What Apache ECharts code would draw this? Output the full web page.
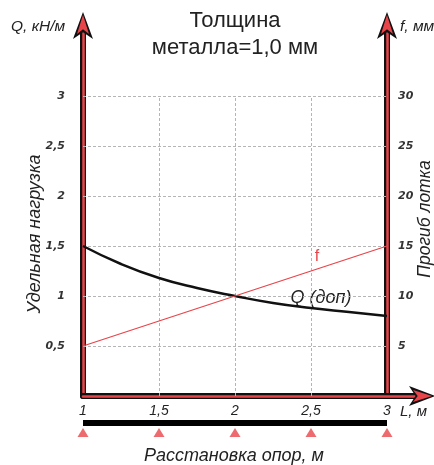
<!DOCTYPE html>
<html><head><meta charset="utf-8">
<script src="https://cdn.jsdelivr.net/npm/echarts@6/dist/echarts.min.js"></script>
<style>html,body{margin:0;padding:0;background:#fff}#c{width:434px;height:465px}</style>
</head><body><div id="c"></div>
<script>
// ---- data ----
var spanL = [1, 1.25, 1.5, 1.75, 2, 2.25, 2.5, 2.75, 3];
var qAllow = [1.5, 1.32, 1.18, 1.08, 1.0, 0.93, 0.88, 0.84, 0.80];
var spanF = [1, 2, 3];
var deflection = [5, 10, 15];
var qTicks = [0.5, 1, 1.5, 2, 2.5, 3];
var xTicks = [1, 1.5, 2, 2.5, 3];
var supports = [1, 1.5, 2, 2.5, 3];

var fmt = function (v) { return String(v).replace('.', ','); };
var RED = '#e8454a';
var GRID_LINE = { type: [3, 2], color: '#b5b5b5', width: 1 };
var FONT = '"Liberation Sans", Arial, sans-serif';

var hLines = qTicks.map(function (v) { return [{ coord: [1, v] }, { coord: [3, v] }]; });
var vLines = xTicks.filter(function (v) { return v > 1 && v < 3; })
  .map(function (v) { return [{ coord: [v, 0] }, { coord: [v, 3] }]; });

var YMAX = 3.74, XMAX = 3.25, PX = 152;
var RIGHT_OFF = -(XMAX - 3) * PX;

function yAx(pos, max, interval, color, width, arrow, off, labels, offset) {
  return {
    type: 'value', gridIndex: 0, position: pos, min: 0, max: max, interval: interval, offset: offset,
    splitLine: { show: false }, axisTick: { show: false },
    axisLine: { show: true, symbol: ['none', 'arrow'], symbolSize: arrow, symbolOffset: [0, off],
      lineStyle: { color: color, width: width } },
    axisLabel: labels ? {
      show: true, fontStyle: 'italic', fontWeight: 'bold', fontSize: 11, color: '#333',
      fontFamily: 'DejaVu Sans', margin: pos === 'left' ? 18 : 11,
      formatter: function (v) { return (v > 0 && v <= max * 0.81) ? fmt(v) : ''; }
    } : { show: false }
  };
}

var chart = echarts.init(document.getElementById('c'));
chart.setOption({
  animation: false,
  grid: [
    { left: 83, right: 434 - 83 - (XMAX - 1) * PX, top: 396 - YMAX * 100, bottom: 69 },
    { left: 83, right: 47, top: 418, height: 20 }
  ],
  xAxis: [
    { type: 'value', gridIndex: 0, position: 'bottom', min: 1, max: XMAX, interval: 0.5,
      splitLine: { show: false }, axisTick: { show: false },
      axisLine: { show: true, onZero: false, symbol: ['none', 'arrow'], symbolSize: [15, 26], symbolOffset: [0, 10],
        lineStyle: { color: '#111', width: 6 } },
      axisLabel: { fontStyle: 'italic', fontSize: 14, color: '#222', margin: 8,
        formatter: function (v) { return v <= 3 ? fmt(v) : ''; } } },
    { type: 'value', gridIndex: 0, position: 'bottom', min: 1, max: XMAX, interval: 0.5,
      splitLine: { show: false }, axisTick: { show: false }, axisLabel: { show: false },
      axisLine: { show: true, onZero: false, symbol: ['none', 'arrow'], symbolSize: [9, 19], symbolOffset: [0, 7],
        lineStyle: { color: RED, width: 2.5 } } },
    { type: 'value', gridIndex: 1, min: 1, max: 3, show: false }
  ],
  yAxis: [
    yAx('left', YMAX, 0.5, '#111', 6, [15, 27], 10, true, 0),
    yAx('left', YMAX, 0.5, RED, 2.5, [9, 19], 7, false, 0),
    yAx('right', YMAX * 10, 5, '#111', 6, [15, 27], 10, true, RIGHT_OFF),
    yAx('right', YMAX * 10, 5, RED, 2.5, [9, 19], 7, false, RIGHT_OFF),
    { type: 'value', gridIndex: 1, min: -1, max: 1, show: false }
  ],
  series: [
    { type: 'line', xAxisIndex: 0, yAxisIndex: 0, smooth: true, showSymbol: false,
      data: spanL.map(function (l, i) { return [l, qAllow[i]]; }),
      lineStyle: { color: '#111', width: 2.5 }, z: 3,
      markLine: { silent: true, symbol: ['none', 'none'], label: { show: false },
        lineStyle: GRID_LINE, data: hLines.concat(vLines), z: 1 } },
    { type: 'line', xAxisIndex: 0, yAxisIndex: 2, showSymbol: false,
      data: spanF.map(function (l, i) { return [l, deflection[i]]; }),
      lineStyle: { color: RED, width: 1.3 }, z: 3 },
    { type: 'line', xAxisIndex: 2, yAxisIndex: 4, showSymbol: false,
      data: [[supports[0], 0.5], [supports[supports.length - 1], 0.5]],
      lineStyle: { color: '#000', width: 6 } },
    { type: 'scatter', xAxisIndex: 2, yAxisIndex: 4, symbol: 'triangle', symbolSize: [11, 9],
      itemStyle: { color: RED },
      data: supports.map(function (s) { return [s, -0.45]; }) }
  ],
  graphic: [
    { type: 'text', x: 235, y: 34, style: { text: 'Толщина\nметалла=1,0 мм', textAlign: 'center',
      textVerticalAlign: 'middle', font: '22px ' + FONT, fill: '#222', lineHeight: 27 } },
    { type: 'text', x: 11, y: 27, style: { text: 'Q, кН/м', textVerticalAlign: 'middle',
      font: 'italic 15.5px ' + FONT, fill: '#222' } },
    { type: 'text', x: 400, y: 27, style: { text: 'f, мм', textVerticalAlign: 'middle',
      font: 'italic 15.5px ' + FONT, fill: '#222' } },
    { type: 'text', x: 400, y: 412, style: { text: 'L, м', textVerticalAlign: 'middle',
      font: 'italic 15px ' + FONT, fill: '#222' } },
    { type: 'text', x: 234, y: 456, style: { text: 'Расстановка опор, м', textAlign: 'center', textVerticalAlign: 'middle',
      font: 'italic 18px ' + FONT, fill: '#222' } },
    { type: 'text', x: 35, y: 234, rotation: Math.PI / 2, style: { text: 'Удельная нагрузка', textAlign: 'center',
      textVerticalAlign: 'middle', font: 'italic 18px ' + FONT, fill: '#222' } },
    { type: 'text', x: 425, y: 219, rotation: Math.PI / 2, style: { text: 'Прогиб лотка', textAlign: 'center',
      textVerticalAlign: 'middle', font: 'italic 17.5px ' + FONT, fill: '#222' } },
    { type: 'text', x: 317, y: 257, style: { text: 'f', textAlign: 'center', textVerticalAlign: 'middle',
      font: '16px ' + FONT, fill: RED } },
    { type: 'text', x: 321, y: 298, style: { text: 'Q (доп)', textAlign: 'center', textVerticalAlign: 'middle',
      font: 'italic 18px ' + FONT, fill: '#222' } }
  ]
});
</script></body></html>
